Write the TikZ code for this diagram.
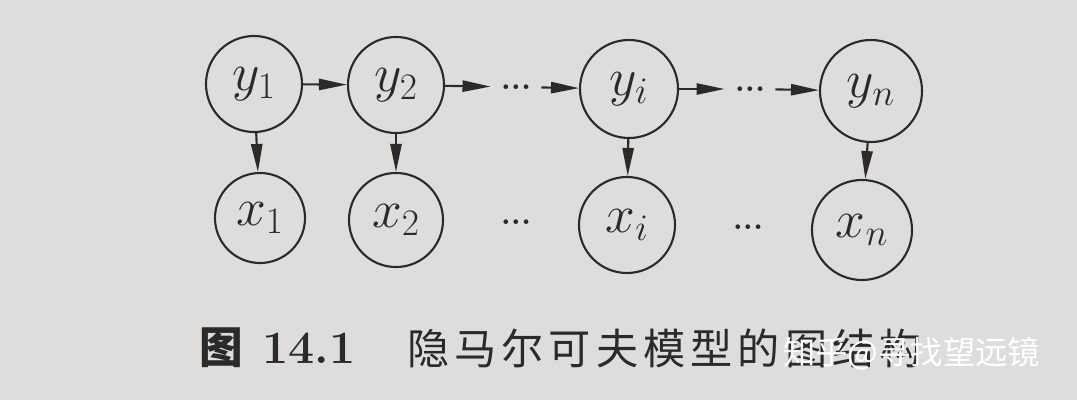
\RequirePackage{fix-cm}
\documentclass[tikz,border=0pt]{standalone}
\usepackage{fontspec}
\newfontfamily\cjk{Noto Sans CJK SC}
\newfontfamily\cjkwide[LetterSpace=12]{Noto Sans CJK SC}
\usetikzlibrary{arrows.meta}
\definecolor{paper}{RGB}{223,221,219}
\definecolor{ink}{RGB}{42,42,42}

\begin{document}
\begin{tikzpicture}[x=0.025cm, y=-0.025cm,
    state/.style={draw=ink, circle, line width=1.5pt, minimum size=2.4cm, inner sep=0pt, text=ink, font=\fontsize{38}{44}\selectfont},
    dots/.style={text=ink, inner xsep=0.25cm, inner ysep=0pt, font=\bfseries\fontsize{23}{28}\selectfont},
    arr/.style={draw=ink, line width=1.5pt, -{Triangle[length=7mm,width=2.8mm]}},
    captext/.style={text=ink, anchor=west, inner sep=0pt}]
    % Paper
    \fill[paper] (0,0) rectangle (1077,400);
    % Hidden states
    \node[state] (y1) at (254,84) {$y_1$};
    \node[state] (y2) at (396,85) {$y_2$};
    \node[state, minimum size=2.45cm] (yi) at (629,89) {$y_i$};
    \node[state, minimum size=2.55cm] (yn) at (871,91) {$y_n$};
    % Observations
    \node[state, minimum size=2.25cm] (x1) at (260,218) {$x_1$};
    \node[state, minimum size=2.35cm] (x2) at (396,220) {$x_2$};
    \node[state, minimum size=2.4cm] (xi) at (627,225) {$x_i$};
    \node[state, minimum size=2.5cm] (xn) at (862,230) {$x_n$};
    % Dots
    \node[dots] (d1) at (516,87) {...};
    \node[dots] (d2) at (750,89) {...};
    \node[dots] (d3) at (516,222) {...};
    \node[dots] (d4) at (748,227) {...};
    % Transitions
    \draw[arr] (y1) -- (y2);
    \draw[arr] (y2) -- (d1);
    \draw[arr] (d1) -- (yi);
    \draw[arr] (yi) -- (d2);
    \draw[arr] (d2) -- (yn);
    % Emissions
    \draw[arr] (y1) -- (x1);
    \draw[arr] (y2) -- (x2);
    \draw[arr] (yi) -- (xi);
    \draw[arr] (yn) -- (xn);
    % Caption
    \node[captext, font=\cjk\bfseries\fontsize{31}{36}\selectfont] (fig) at (199,348) {图};
    \node[captext, font=\bfseries\fontsize{33}{38}\selectfont] (num) at (262,348) {14.1};
    \node[captext, font=\cjkwide\fontsize{30}{36}\selectfont] (title) at (407,348) {隐马尔可夫模型的图结构};
    \node[captext, text=white, font=\cjk\fontsize{23}{28}\selectfont] (wm) at (783,354) {知乎@寻找望远镜};
\end{tikzpicture}
\end{document}
